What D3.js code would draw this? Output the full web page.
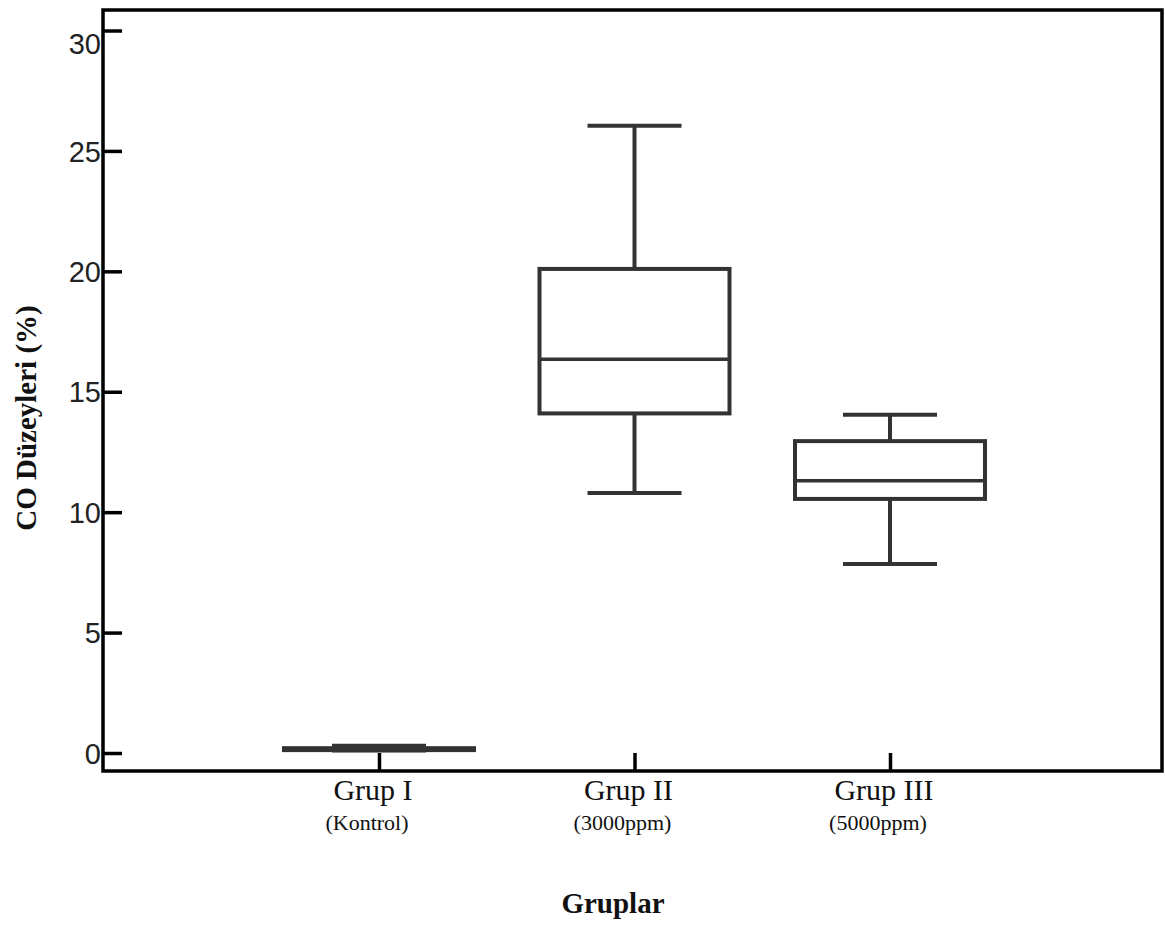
<!DOCTYPE html>
<html>
<head>
<meta charset="utf-8">
<script src="https://cdn.jsdelivr.net/npm/d3@7"></script>
<style>
  body { margin: 0; background: #fff; }
  svg { display: block; }
</style>
</head>
<body>
<div class="chart"></div>
<script>
// data
const groups = ['Grup I', 'Grup II', 'Grup III'];
const subLabels = ['(Kontrol)', '(3000ppm)', '(5000ppm)'];
const mins    = [0.1, 10.8, 7.85];
const q1s     = [0.12, 14.1, 10.55];
const medians = [0.15, 16.35, 11.3];
const q3s     = [0.2, 20.1, 12.95];
const maxs    = [0.3, 26.05, 14.05];
const yTicks  = [0, 5, 10, 15, 20, 25, 30];

const width = 1165;
const height = 927;
const frame = { left: 103, right: 1162, top: 10, bottom: 771 };

const boxes = groups.map((g, i) => ({
    group: g, sub: subLabels[i],
    min: mins[i], q1: q1s[i], median: medians[i], q3: q3s[i], max: maxs[i]
}));

const svg = d3.select('.chart')
    .append('svg')
    .attr('width', width)
    .attr('height', height);

const y = d3.scaleLinear().domain([0, 30]).range([753, 30.5]);
const x = d3.scalePoint().domain(groups).range([379, 890]);

const boxW = 190;
const capW = 94;
const boxColor = '#333';

// frame
svg.append('rect')
    .attr('x', frame.left).attr('y', frame.top)
    .attr('width', frame.right - frame.left).attr('height', frame.bottom - frame.top)
    .attr('fill', 'none')
    .attr('stroke', '#000')
    .attr('stroke-width', 3.5);

// y axis
const yAxis = svg.append('g')
    .attr('transform', `translate(${frame.left},0)`)
    .call(d3.axisRight(y).tickValues(yTicks).tickSize(19).tickPadding(0).tickFormat(d3.format('d')));
yAxis.select('.domain').remove();
yAxis.selectAll('.tick line').attr('stroke', '#000').attr('stroke-width', 3.5);
yAxis.selectAll('.tick text')
    .attr('x', -2)
    .attr('text-anchor', 'end')
    .attr('dy', d => d === 30 ? '0.78em' : '0.35em')
    .attr('font-family', '"Liberation Sans", Arial, sans-serif')
    .attr('font-size', 29)
    .attr('fill', '#222');

// x axis
const xAxis = svg.append('g')
    .attr('transform', `translate(0,${frame.bottom})`)
    .call(d3.axisTop(x).tickSize(18).tickFormat(''));
xAxis.select('.domain').remove();
xAxis.selectAll('.tick line').attr('stroke', '#000').attr('stroke-width', 3.5);

// category labels
const labels = svg.append('g');
labels.selectAll('text.main')
    .data(boxes)
    .enter()
    .append('text')
    .attr('class', 'main')
    .text(d => d.group)
    .attr('x', d => x(d.group) - 6)
    .attr('y', 800)
    .attr('text-anchor', 'middle')
    .attr('font-family', '"Liberation Serif", "Times New Roman", serif')
    .attr('font-size', 30)
    .attr('fill', '#111');
labels.selectAll('text.sub')
    .data(boxes)
    .enter()
    .append('text')
    .attr('class', 'sub')
    .text(d => d.sub)
    .attr('x', d => x(d.group) - 12)
    .attr('y', 830)
    .attr('text-anchor', 'middle')
    .attr('font-family', '"Liberation Serif", "Times New Roman", serif')
    .attr('font-size', 22)
    .attr('fill', '#111');

// axis titles
svg.append('text')
    .text('Gruplar')
    .attr('x', 613)
    .attr('y', 913)
    .attr('text-anchor', 'middle')
    .attr('font-family', '"Liberation Serif", "Times New Roman", serif')
    .attr('font-weight', 'bold')
    .attr('font-size', 29)
    .attr('fill', '#111');

svg.append('text')
    .text('CO Düzeyleri (%)')
    .attr('transform', 'translate(36,418) rotate(-90)')
    .attr('text-anchor', 'middle')
    .attr('font-family', '"Liberation Serif", "Times New Roman", serif')
    .attr('font-weight', 'bold')
    .attr('font-size', 29)
    .attr('fill', '#111');

// boxplots
const bp = svg.append('g')
    .selectAll('g')
    .data(boxes)
    .enter()
    .append('g')
    .attr('stroke', boxColor)
    .attr('stroke-width', 4)
    .attr('fill', 'none');

// whiskers
bp.append('line')
    .attr('x1', d => x(d.group)).attr('x2', d => x(d.group))
    .attr('y1', d => y(d.max)).attr('y2', d => y(d.q3));
bp.append('line')
    .attr('x1', d => x(d.group)).attr('x2', d => x(d.group))
    .attr('y1', d => y(d.q1)).attr('y2', d => y(d.min));
// caps
bp.append('line')
    .attr('x1', d => x(d.group) - capW / 2).attr('x2', d => x(d.group) + capW / 2)
    .attr('y1', d => y(d.max)).attr('y2', d => y(d.max));
bp.append('line')
    .attr('x1', d => x(d.group) - capW / 2).attr('x2', d => x(d.group) + capW / 2)
    .attr('y1', d => y(d.min)).attr('y2', d => y(d.min));
// box
bp.append('rect')
    .attr('x', d => x(d.group) - boxW / 2)
    .attr('y', d => y(d.q3))
    .attr('width', boxW)
    .attr('height', d => y(d.q1) - y(d.q3))
    .attr('fill', '#fff');
// median
bp.append('line')
    .attr('x1', d => x(d.group) - boxW / 2).attr('x2', d => x(d.group) + boxW / 2)
    .attr('y1', d => y(d.median)).attr('y2', d => y(d.median))
    .attr('stroke-width', 3.5);
</script>
</body>
</html>
